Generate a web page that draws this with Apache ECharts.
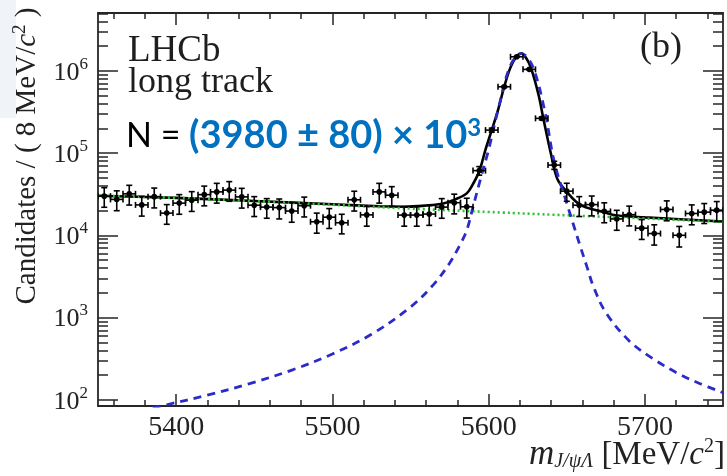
<!DOCTYPE html>
<html><head><meta charset="utf-8">
<script src="https://cdn.jsdelivr.net/npm/echarts@6/dist/echarts.min.js"></script>
<style>html,body{margin:0;padding:0;background:#fff}#c{width:727px;height:476px}</style>
</head><body><div id="c"></div>
<script>
// ---- data ----
const binCenters = [5354,5362,5370,5378,5386,5394,5402,5410,5418,5426,
  5434,5442,5450,5458,5466,5474,5482,5490,5498,5506,
  5514,5522,5530,5538,5546,5554,5562,5570,5578,5586,
  5594,5602,5610,5618,5626,5634,5642,5650,5658,5666,
  5674,5682,5690,5698,5706,5714,5722,5730,5738,5746];
const counts = [29900,27300,31900,23400,29500,18600,24600,26700,31200,33700,
  35400,29300,23200,22000,21700,19700,22900,14600,16600,14200,
  27000,17700,33700,30700,17600,17600,18100,22000,24900,22200,
  61100,190000,639000,1480000,1040000,264000,71300,34400,23200,23600,
  19500,15800,17800,12200,10500,20600,10000,18400,19100,20200];
const countErrors = [8000,7400,8600,6300,8000,5000,6600,7200,8400,9100,
  9500,7900,6300,5900,5900,5300,6200,4000,4500,3800,
  7300,4800,9100,8300,4700,4700,4900,5900,6700,6000,
  7300,10600,14000,20000,17000,11000,8000,8500,6300,6400,
  5300,4300,4800,3300,2900,5600,2800,5000,5200,5500];
const binHalfWidth = 4;

const bkgMass = [5350,5400,5450,5500,5550,5600,5650,5700,5750];
const bkgValues = [30300,28500,26000,23500,21100,19200,17500,16000,14600];

const sigMass = [5385,5394,5420,5447,5475,5500,5525,5550,5565,5575,5582,5586,5590,5595,5600,5606,5614,5621,5628,5636,5642,5650,5654,5659,5663,5667,5675,5690,5705,5722,5735,5750];
const sigValues = [80,87,114,157,233,360,625,1340,2550,4580,7850,11500,22000,50000,110000,333000,1170000,1620000,1150000,320000,78000,24600,14000,7000,4100,2400,1150,520,317,205,158,122];

const totMass = [5350,5400,5450,5500,5530,5546,5560,5571,5579,5586,5590,5594,5598,5602,5606,5610,5614,5618,5621,5624,5627,5632,5635,5640,5644,5650,5659,5673,5681,5700,5750];
const totValues = [30300,28500,26100,23800,22500,22200,23000,24400,27500,32300,42000,60000,110000,190000,333000,640000,1100000,1500000,1630000,1430000,1100000,506000,264000,95500,48400,33800,23200,19300,17500,16500,14700];

const massTicks = [5400,5500,5600,5700];
const massMinorTicks = [5360,5380,5420,5440,5460,5480,5520,5540,5560,5580,5620,5640,5660,5680,5720,5740];
const countTicks = [100,1000,10000,100000,1000000];
const mantissas = [2,3,4,5,6,7,8,9];
const xMin = 5350, xMax = 5750, yMin = 84, yMax = 5.04e6;
const countMinorTicks = [];
countTicks.forEach(d => mantissas.forEach(m => { if (m*d <= yMax) countMinorTicks.push(m*d); }));

// ---- chart ----
const SERIF = '"Liberation Serif", "DejaVu Serif", serif';
const AX = '#262626';
const chart = echarts.init(document.getElementById('c'), null, {renderer:'canvas'});

function xAx(pos, ticks, len, labels, line) {
  return {
    type:'value', position:pos, min:xMin, max:xMax, gridIndex:0,
    axisLine:{show:line, onZero:false, lineStyle:{color:AX, width:1.8}},
    axisTick:{show:true, inside:true, length:len, customValues:ticks, lineStyle:{color:AX, width:1.5}},
    axisLabel:{show:labels, customValues:ticks, margin:8, color:'#222', fontFamily:SERIF, fontSize:28,
      formatter: v => String(v)},
    splitLine:{show:false}
  };
}
function yAx(pos, ticks, len, labels, line) {
  return {
    type:'log', logBase:10, position:pos, min:yMin, max:yMax, gridIndex:0,
    axisLine:{show:line, onZero:false, lineStyle:{color:AX, width:1.8}},
    axisTick:{show:true, inside:true, length:len, customValues:ticks, lineStyle:{color:AX, width:1.5}},
    axisLabel:{show:labels, customValues:ticks, margin:10, color:'#222',
      formatter: v => '{b|10}{s|' + Math.round(Math.log10(v)) + '}',
      rich:{b:{fontFamily:SERIF, fontSize:26, lineHeight:30, verticalAlign:'bottom', color:'#222'},
            s:{fontFamily:SERIF, fontSize:17, lineHeight:17, verticalAlign:'top', color:'#222'}}},
    splitLine:{show:false}
  };
}

const points = binCenters.map((m,i) => [m, counts[i], countErrors[i]]);

function renderErr(params, api) {
  const m = api.value(0), v = api.value(1), e = api.value(2);
  const c = api.coord([m, v]);
  const hi = api.coord([m, v + e]);
  const lo = api.coord([m, Math.max(v - e, yMin)]);
  const l = api.coord([m - binHalfWidth, v]);
  const r = api.coord([m + binHalfWidth, v]);
  const cap = 3;
  const st = {stroke:'#000', lineWidth:1.6};
  return {type:'group', children:[
    {type:'line', shape:{x1:c[0], y1:hi[1], x2:c[0], y2:lo[1]}, style:st},
    {type:'line', shape:{x1:c[0]-cap, y1:hi[1], x2:c[0]+cap, y2:hi[1]}, style:st},
    {type:'line', shape:{x1:c[0]-cap, y1:lo[1], x2:c[0]+cap, y2:lo[1]}, style:st},
    {type:'line', shape:{x1:l[0], y1:c[1], x2:r[0], y2:c[1]}, style:st},
    {type:'line', shape:{x1:l[0], y1:c[1]-cap, x2:l[0], y2:c[1]+cap}, style:st},
    {type:'line', shape:{x1:r[0], y1:c[1]-cap, x2:r[0], y2:c[1]+cap}, style:st},
    {type:'circle', shape:{cx:c[0], cy:c[1], r:2.8}, style:{fill:'#000'}}
  ]};
}

chart.setOption({
  animation:false,
  backgroundColor:'#fff',
  grid:{left:98, right:4, top:13, bottom:70, containLabel:false},
  xAxis:[xAx('bottom', massTicks, 12, true, true), xAx('bottom', massMinorTicks, 6, false, false),
         xAx('top', massTicks, 12, false, true), xAx('top', massMinorTicks, 6, false, false)],
  yAxis:[yAx('left', countTicks, 20, true, true), yAx('left', countMinorTicks, 10, false, false),
         yAx('right', countTicks, 20, false, true), yAx('right', countMinorTicks, 10, false, false)],
  series:[
    {type:'line', name:'total', data: totMass.map((m,i)=>[m, totValues[i]]), smooth:0.35, showSymbol:false,
      lineStyle:{color:'#000', width:2.6}, z:2},
    {type:'line', name:'background', data: bkgMass.map((m,i)=>[m, bkgValues[i]]), smooth:true, showSymbol:false,
      lineStyle:{color:'#2fc12f', width:2.6, type:[2,3]}, z:3},
    {type:'line', name:'signal', data: sigMass.map((m,i)=>[m, sigValues[i]]), smooth:0.35, showSymbol:false,
      lineStyle:{color:'#2b2bc8', width:2.8, type:[8,6]}, z:4},
    {type:'custom', name:'data', data: points, renderItem: renderErr, z:10, clip:true}
  ],
  graphic:[
    {type:'rect', left:0, top:0, shape:{width:16, height:118}, style:{fill:'#f0f3f7'}, z:-1},
    {type:'text', x:27, y:156, rotation:Math.PI/2, style:{
      text:'Candidates / ( 8 MeV/{i|c}{s|2} )', align:'center', verticalAlign:'middle',
      font:'29px ' + SERIF, fill:'#222',
      rich:{i:{fontFamily:SERIF, fontSize:29, fontStyle:'italic', fill:'#222'},
            s:{fontFamily:SERIF, fontSize:19, fill:'#222', padding:[0,0,14,0]}}}},
    {type:'text', x:725, y:473, style:{
      text:'{m|m}{sub|J/ψΛ} [MeV/{i|c}{s|2}]', align:'right', verticalAlign:'bottom',
      font:'33px ' + SERIF, fill:'#222',
      rich:{m:{fontFamily:SERIF, fontSize:35, fontStyle:'italic'},
            sub:{fontFamily:SERIF, fontSize:20, fontStyle:'italic', padding:[14,0,0,0]},
            i:{fontFamily:SERIF, fontSize:33, fontStyle:'italic'},
            s:{fontFamily:SERIF, fontSize:20, padding:[0,0,16,0]}}}},
    {type:'text', x:128, y:33, style:{text:'LHCb', font:'37px ' + SERIF, fill:'#1e1e1e', verticalAlign:'top'}},
    {type:'text', x:128, y:65, style:{text:'long track', font:'36px ' + SERIF, fill:'#1e1e1e', verticalAlign:'top'}},
    {type:'text', x:640, y:30, style:{text:'(b)', font:'36px ' + SERIF, fill:'#1e1e1e', verticalAlign:'top'}},
    {type:'text', x:126, y:156, style:{
      text:'{n|N = }{v|(3980 ± 80) × 10}{e|3}', verticalAlign:'bottom',
      rich:{n:{fontFamily:'Lato', fontSize:34, fill:'#000'},
            v:{fontFamily:'Lato', fontSize:38, fontWeight:'bold', fill:'#0070c0'},
            e:{fontFamily:'Lato', fontSize:24, fontWeight:'bold', fill:'#0070c0', padding:[0,0,16,0]}}}}
  ]
});
</script></body></html>
